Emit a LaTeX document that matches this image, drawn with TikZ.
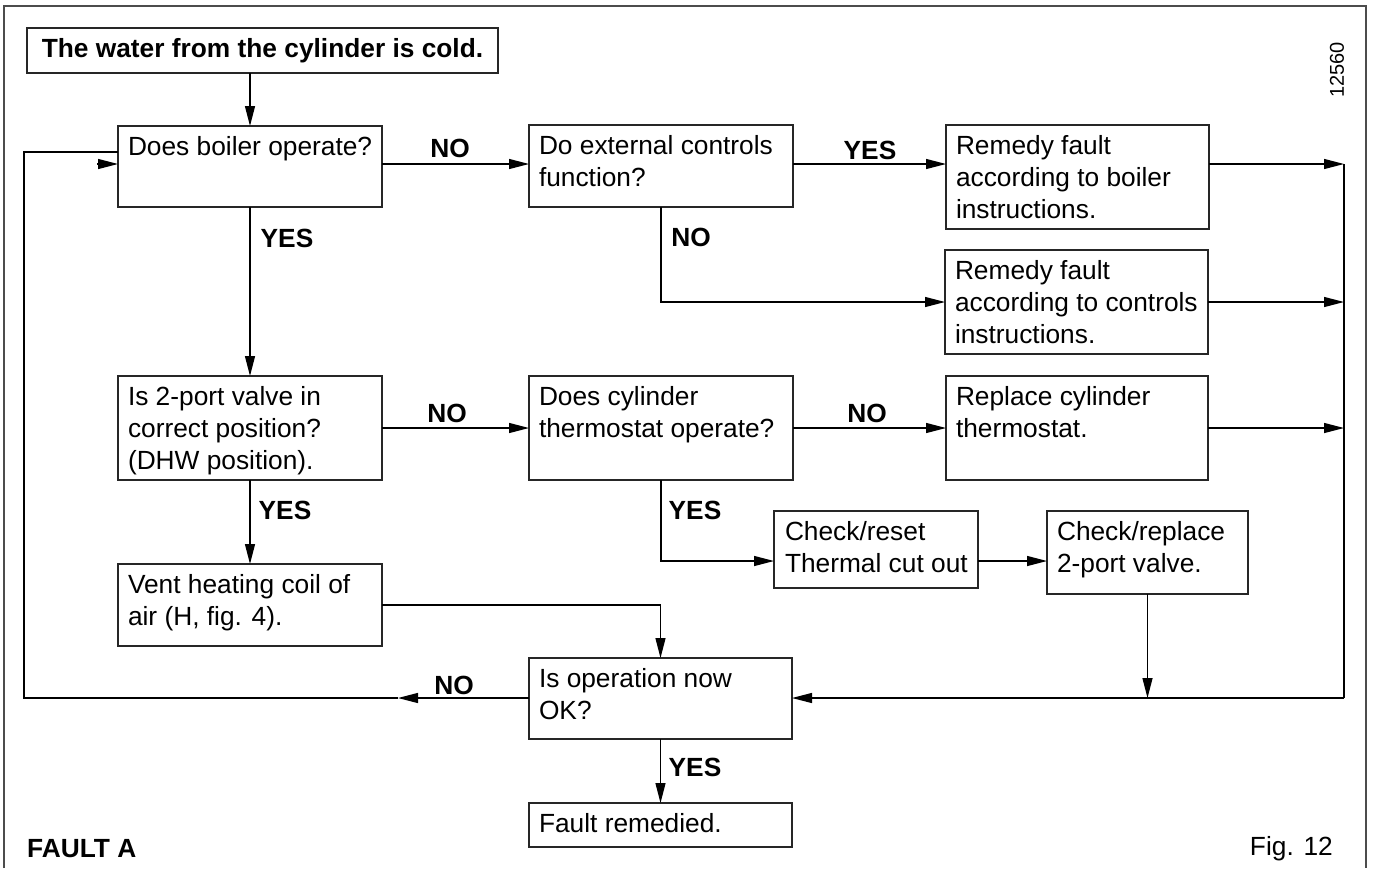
\documentclass[tikz,border=0pt]{standalone}
\usepackage{fontspec}
\setmainfont{Liberation Sans}
\usetikzlibrary{arrows.meta}
\newcommand{\bt}[4][10]{\parbox[c][#3pt][t]{#2pt}{\raggedright\leftskip=#1pt\rightskip=0pt plus 40pt\rule{0pt}{29pt}#4}}
\begin{document}
\begin{tikzpicture}[x=1pt,y=-1pt,
  font=\fontsize{26.3}{32}\selectfont,
  box/.style={draw=black!85, line width=1.6pt, inner sep=0pt, outer sep=0pt, anchor=north west},
  conn/.style={line width=1.3pt},
  arr/.style={conn, -{Triangle[length=20pt,width=10pt]}},
  lbl/.style={font=\fontsize{26.3}{32}\selectfont\bfseries, inner sep=0pt}]
\useasboundingbox (0,0) rectangle (1374,868);
% frame
\draw[line width=2pt, black!70] (4,868) -- (4,6) -- (1366,6) -- (1366,868);
% boxes
\node[box, minimum width=471pt, minimum height=45pt, font=\fontsize{26.3}{32}\selectfont\bfseries] (title) at (27,28) {The water from the cylinder is cold.};
\node[box] (boiler) at (118,126) {\bt{264}{81}{Does boiler operate?}};
\node[box] (ext) at (529,125) {\bt{264}{82}{Do external controls\\function?}};
\node[box] (remB) at (946,125) {\bt{263}{104}{Remedy fault\\according to boiler\\instructions.}};
\node[box] (remC) at (945,250) {\bt{263}{104}{Remedy fault\\according to controls\\instructions.}};
\node[box] (twoport) at (118,376) {\bt{264}{104}{Is 2-port valve in\\correct position?\\(DHW position).}};
\node[box] (cyl) at (529,376) {\bt{264}{104}{Does cylinder\\thermostat operate?}};
\node[box] (replace) at (946,376) {\bt{262}{104}{Replace cylinder\\thermostat.}};
\node[box] (checkreset) at (774,511) {\bt[11]{204}{77}{Check/reset\\Thermal cut out}};
\node[box] (checkreplace) at (1047,511) {\bt{201}{83}{Check/replace\\2-port valve.}};
\node[box] (vent) at (118,564) {\bt{264}{82}{Vent heating coil of\\air (H, fig. 4).}};
\node[box] (ok) at (529,658) {\bt{263}{81}{Is operation now\\OK?}};
\node[box] (fault) at (529,803) {\bt{263}{44}{Fault remedied.}};
% helper coordinates
\coordinate (rtop) at (1344,164);
\coordinate (rbot) at (1344,698);
\coordinate (lbot) at (24,698);
\coordinate (ltop) at (24,152);
\coordinate (noTip) at (398,698);
\coordinate (lArrow) at (97,164);
\coordinate (cyes) at (661,561);
% connectors
\draw[arr] (title.south -| boiler.north) -- (boiler.north);
\draw[arr] (boiler.east |- rtop) -- (ext.west |- rtop);
\draw[arr] (ext.east |- rtop) -- (remB.west |- rtop);
\draw[arr] (remB.east |- rtop) -- (rtop);
\draw[arr] (ext.south) |- (remC.west);
\draw[arr] (remC.east) -- (remC.east -| rtop);
\draw[arr] (boiler.south) -- (twoport.north);
\draw[arr] (twoport.east) -- (cyl.west);
\draw[arr] (cyl.east) -- (replace.west);
\draw[arr] (replace.east) -- (replace.east -| rtop);
\draw[conn] (rtop) -- (rbot);
\draw[arr] (rbot) -- (rbot -| ok.east);
\draw[arr] (cyl.south) |- (checkreset.west |- cyes);
\draw[arr] (checkreset.east |- cyes) -- (checkreplace.west |- cyes);
\draw[arr] (checkreplace.south) -- (checkreplace.south |- rbot);
\draw[arr] (twoport.south) -- (vent.north);
\draw[arr] (vent.east) -| (ok.north);
\draw[arr] (ok.west |- rbot) -- (noTip);
\draw[conn] (noTip) -- (lbot) -- (ltop) -- (ltop -| boiler.west);
\draw[arr] (lArrow) -- (lArrow -| boiler.west);
\draw[arr] (ok.south) -- (fault.north);
% labels
\node[lbl] (l1) at (450,148) {NO};
\node[lbl] (l2) at (870,150) {YES};
\node[lbl] (l3) at (691,237) {NO};
\node[lbl] (l4) at (287,238) {YES};
\node[lbl] (l5) at (447,413) {NO};
\node[lbl] (l6) at (867,413) {NO};
\node[lbl] (l7) at (695,510) {YES};
\node[lbl] (l8) at (285,510) {YES};
\node[lbl] (l9) at (454,685) {NO};
\node[lbl] (l10) at (695,767) {YES};
\node[lbl, anchor=base west] (fa) at (27,857) {FAULT A};
\node[inner sep=0pt, anchor=base east] (fig) at (1333,855) {Fig. 12};
\node[inner sep=0pt, rotate=90, font=\fontsize{20}{24}\selectfont] (num) at (1337,70) {12560};
\end{tikzpicture}
\end{document}
